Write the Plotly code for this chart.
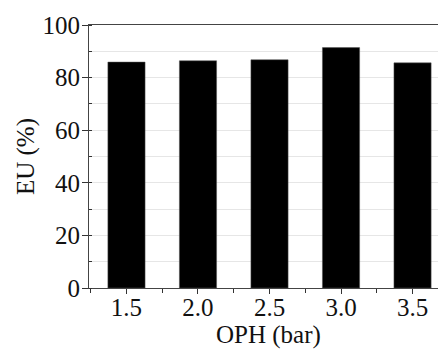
import plotly.graph_objects as go

oph = [1.5, 2.0, 2.5, 3.0, 3.5]
eu = [85.9, 86.4, 86.8, 91.4, 85.6]
xticks = [1.5, 2.0, 2.5, 3.0, 3.5]
xticklabels = ["1.5", "2.0", "2.5", "3.0", "3.5"]
yticks = [0, 20, 40, 60, 80, 100]
x_title = "OPH (bar)"
y_title = "EU (%)"

fig = go.Figure()
fig.add_trace(go.Bar(x=oph, y=eu, width=0.26,
                     marker=dict(color="black", line=dict(color="#555", width=0.5))))

font = dict(family="Times New Roman, Liberation Serif, serif", size=25, color="#111")
fig.update_layout(
    width=438, height=349,
    margin=dict(l=89, r=0, t=25, b=61),
    paper_bgcolor="white", plot_bgcolor="white",
    showlegend=False,
    font=font,
    xaxis=dict(range=[1.238, 3.678], tickvals=xticks, ticktext=xticklabels,
               ticks="outside", ticklen=5, tickcolor="#333", showline=True,
               linecolor="#444", linewidth=1.2, mirror=True, showgrid=False,
               zeroline=False, ticklabelstandoff=-8,
               minor=dict(tickvals=[1.25, 1.75, 2.25, 2.75, 3.25], ticks="outside",
                          ticklen=4, tickcolor="#333"),
               tickfont=font),
    yaxis=dict(range=[0, 100], tickvals=yticks, ticks="outside", ticklen=6,
               tickcolor="#333", showline=True, linecolor="#444", linewidth=1.2,
               mirror=False, showgrid=True, gridcolor="#e6e6e6", gridwidth=1,
               zeroline=False, ticklabelstandoff=-3,
               minor=dict(dtick=10, ticks="inside", ticklen=3, tickcolor="#333",
                          showgrid=True, gridcolor="#e6e6e6"),
               title=dict(text=y_title, font=font, standoff=0),
               tickfont=font),
    annotations=[dict(text=x_title, xref="paper", yref="paper", x=0.515, y=-0.178,
                      xanchor="center", yanchor="middle", showarrow=False,
                      font=font)],
)
fig.write_html("out.html")
